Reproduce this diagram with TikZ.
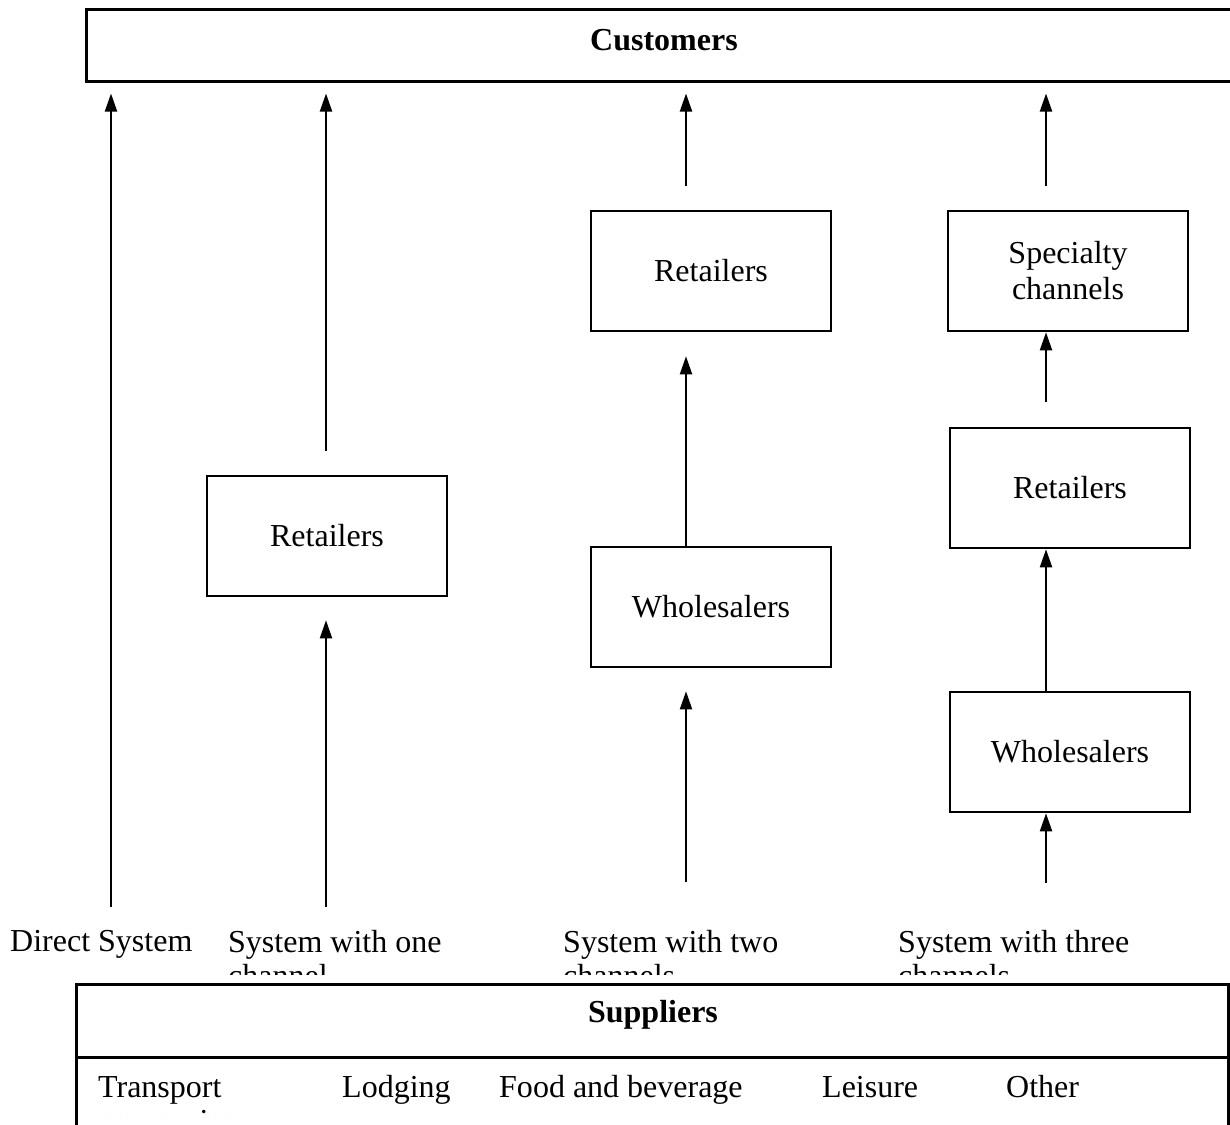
\documentclass[tikz,border=0pt]{standalone}
\usepackage{fontspec}
\setmainfont{Liberation Serif}
\usetikzlibrary{arrows.meta}
\begin{document}
\begin{tikzpicture}[x=1pt,y=-1pt,
  box/.style={draw, line width=2.6pt, minimum width=240pt, minimum height=120pt,
    inner sep=0pt, align=center, font=\fontsize{32}{36}\selectfont},
  wide/.style={draw, line width=3pt, inner sep=0pt},
  txt/.style={inner sep=0pt, align=left, font=\fontsize{32}{34}\selectfont},
  bold/.style={inner sep=0pt, font=\fontsize{32}{34}\selectfont\bfseries},
  flow/.style={line width=2pt, -{Triangle[length=18pt,width=12pt]}},
  ]
\useasboundingbox (0,0) rectangle (1230,1124);
\clip (0,0) rectangle (1230,1124);

% top and bottom bands
\node[wide, minimum width=1154pt, minimum height=71pt] (cust) at (663,45.5) {};
\node[bold] (custlabel) at (664,40) {Customers};

% intermediaries
\node[box] (ret1) at (327,536) {Retailers};
\node[box] (ret2) at (711,271) {Retailers};
\node[box] (whs2) at (711,607) {Wholesalers};
\node[box] (spec) at (1068,271) {Specialty\\channels};
\node[box] (ret3) at (1070,488) {Retailers};
\node[box] (whs3) at (1070,752) {Wholesalers};

% column guides and free arrow ends
\coordinate (c1) at (111,0);
\coordinate (c2) at (326,0);
\coordinate (c3) at (686,0);
\coordinate (c4) at (1046,0);
\coordinate (s1) at (111,907);
\coordinate (s2) at (326,907);
\coordinate (s3) at (686,882);
\coordinate (s4) at (1046,883);

% direct system
\draw[flow, shorten >=11pt] (s1) -- (cust.south -| c1);
% one channel
\draw[flow, shorten >=23pt] (s2) -- (ret1.south -| c2);
\draw[flow, shorten <=24pt, shorten >=11pt] (ret1.north -| c2) -- (cust.south -| c2);
% two channels
\draw[flow, shorten >=23pt] (s3) -- (whs2.south -| c3);
\draw[flow, shorten >=24pt] (whs2.north -| c3) -- (ret2.south -| c3);
\draw[flow, shorten <=24pt, shorten >=11pt] (ret2.north -| c3) -- (cust.south -| c3);
% three channels
\draw[flow] (s4) -- (whs3.south -| c4);
\draw[flow] (whs3.north -| c4) -- (ret3.south -| c4);
\draw[flow, shorten <=25pt] (ret3.north -| c4) -- (spec.south -| c4);
\draw[flow, shorten <=24pt, shorten >=11pt] (spec.north -| c4) -- (cust.south -| c4);

% system captions, cut off by their frames (base = last line)
\begin{scope}
  \clip (0,900) rectangle (1230,974);
  \node[txt, anchor=base west] (l1) at (10,951) {Direct System};
  \node[txt, anchor=base west] (l2) at (228,986) {System with one\\channel};
  \node[txt, anchor=base west] (l3) at (563,986) {System with two\\channels};
  \node[txt, anchor=base west] (l4) at (898,986) {System with three\\channels};
\end{scope}

% suppliers
\node[wide, minimum width=1152pt, minimum height=166pt] (sup) at (652,1067) {};
\coordinate (divl) at (76,1057);
\coordinate (divr) at (1228,1057);
\draw[line width=3pt] (sup.west |- divl) -- (sup.east |- divr);
\node[bold] (suplabel) at (653,1015) {Suppliers};
\begin{scope}
  \clip (80,1060) rectangle (330,1115.5);
  \node[txt, anchor=base west] (p1) at (98,1131) {Transport\\companies};
\end{scope}
\node[txt, anchor=base west] (p2) at (342,1097) {Lodging};
\node[txt, anchor=base west] (p3) at (499,1097) {Food and beverage};
\node[txt, anchor=base west] (p4) at (822,1097) {Leisure};
\node[txt, anchor=base west] (p5) at (1006,1097) {Other};
\end{tikzpicture}
\end{document}
